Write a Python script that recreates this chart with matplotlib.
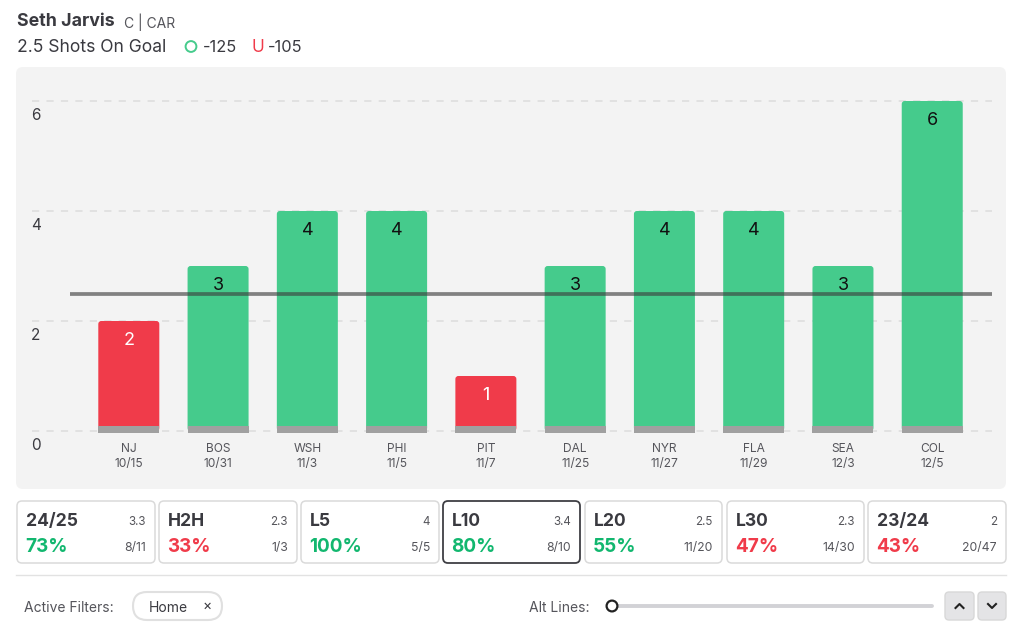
import matplotlib
matplotlib.use("Agg")
import matplotlib.pyplot as plt
from matplotlib.patches import FancyBboxPatch, Circle

plt.rcParams['font.family'] = ['Inter', 'DejaVu Sans']

W, H = 1024, 630

# chart data
teams = ["NJ", "BOS", "WSH", "PHI", "PIT", "DAL", "NYR", "FLA", "SEA", "COL"]
dates = ["10/15", "10/31", "11/3", "11/5", "11/7", "11/25", "11/27", "11/29", "12/3", "12/5"]
shots = [2, 3, 4, 4, 1, 3, 4, 4, 3, 6]
prop_line = 2.5
y_ticks = [0, 2, 4, 6]

# summary cards
card_names = ["24/25", "H2H", "L5", "L10", "L20", "L30", "23/24"]
card_avgs = ["3.3", "2.3", "4", "3.4", "2.5", "2.3", "2"]
card_pcts = [73, 33, 100, 80, 55, 47, 43]
card_fracs = ["8/11", "1/3", "5/5", "8/10", "11/20", "14/30", "20/47"]

GREEN = "#45CB8C"
RED = "#F03B4A"
TEXT_GREEN = "#12B76F"
DARK = "#3A3A40"
MID = "#55555B"

fig = plt.figure(figsize=(W / 100, H / 100), dpi=100, facecolor="white")

# overlay in pixel coordinates for the page furniture
ui = fig.add_axes([0, 0, 1, 1], zorder=0)
ui.set_xlim(0, W)
ui.set_ylim(H, 0)
ui.axis("off")


def rbox(x0, y0, x1, y1, r, fc, ec="none", lw=0, z=1):
    p = FancyBboxPatch((x0, y0), x1 - x0, y1 - y0, boxstyle=f"round,pad=0,rounding_size={r}",
                       fc=fc, ec=ec, lw=lw, zorder=z)
    ui.add_patch(p)


# header
ui.text(17, 22, "Seth Jarvis", fontsize=12.8, fontweight="bold", color=DARK, va="center")
ui.text(124, 22.5, "C | CAR", fontsize=10, color=MID, va="center")
ui.text(17, 48, "2.5 Shots On Goal", fontsize=12.6, color=DARK, va="center")
ui.add_patch(Circle((191, 46.5), 5.4, fc="none", ec=GREEN, lw=1.4))
ui.text(203, 48, "-125", fontsize=11.8, color=DARK, va="center")
ui.text(258, 48, "U", fontsize=12.4, color=RED, va="center", ha="center")
ui.text(268, 48, "-105", fontsize=11.8, color=DARK, va="center")

# chart panel
rbox(16, 67, 1006, 489, 7, "#F3F3F3")

# chart axes lined up with the panel, bottom edge just under the bar feet
STEP = 89.27
X0 = 128.8
UNIT = 55.0
Y0 = 431.0
AX_BOTTOM = 436
ax = fig.add_axes([16 / W, 1 - AX_BOTTOM / H, 990 / W, (AX_BOTTOM - 67) / H], zorder=1)
ax.patch.set_alpha(0)
ax.set_xlim((16 - X0) / STEP, (1006 - X0) / STEP)
ax.set_ylim((Y0 - AX_BOTTOM) / UNIT, (Y0 - 67) / UNIT)
for s in ax.spines.values():
    s.set_visible(False)

xs = list(range(len(teams)))
ax.hlines(y_ticks, (32 - X0) / STEP, (992 - X0) / STEP, colors="#E0E0E0", lw=1.3,
          linestyles=(0, (4, 4)), zorder=1)

bar_w = 61 / STEP
for x, v in zip(xs, shots):
    c = GREEN if v > prop_line else RED
    ax.add_patch(FancyBboxPatch((x - bar_w / 2, 0), bar_w, v,
                                boxstyle=f"round,pad=0,rounding_size={3 / STEP}",
                                mutation_aspect=STEP / UNIT, fc=c, ec="none", zorder=2))
    ax.annotate(str(v), (x, v), xytext=(0, -19.5 * 0.72), textcoords="offset points", ha="center",
                va="center", fontsize=13, color="white" if v < prop_line else "#111111", zorder=5)
# grey foot of each bar
ax.bar(xs, [7 / UNIT] * len(xs), bottom=-2 / UNIT, width=bar_w, color="#A0A0A0", zorder=3)

ax.plot([(70 - X0) / STEP, (992 - X0) / STEP], [prop_line, prop_line], color="#3C3C3C", alpha=0.62,
        lw=2.7, solid_capstyle="butt", zorder=4)

ax.set_xticks(xs, [f"{t}\n{d}" for t, d in zip(teams, dates)])
ax.tick_params(axis="x", length=0, pad=5, labelsize=8.6, labelcolor=MID)
for lab in ax.get_xticklabels():
    lab.set_linespacing(1.3)
ax.set_yticks([])
for t in y_ticks:
    ax.annotate(str(t), ((36 - X0) / STEP, t), xytext=(0, -15 * 0.72), textcoords="offset points",
                ha="center", va="center", fontsize=11, color=DARK)

# summary cards
card_x0 = [17, 159, 301, 443, 585, 727, 868]
card_x1 = [155, 297, 439, 580, 722, 864, 1006]
for i, name in enumerate(card_names):
    x0, x1 = card_x0[i], card_x1[i]
    active = name == "L10"
    rbox(x0, 501, x1, 563, 5, "white", ec="#3F3F44" if active else "#DADADA", lw=1.3 if active else 1.1)
    ui.text(x0 + 9, 521.5, name, fontsize=12.6, fontweight="bold", color=DARK, va="center")
    ui.text(x1 - 9, 522, card_avgs[i], fontsize=8.4, color=MID, va="center", ha="right")
    ui.text(x0 + 8, 547, f"{card_pcts[i]}%", fontsize=13.6, fontweight="bold", va="center",
            color=TEXT_GREEN if card_pcts[i] >= 50 else RED)
    ui.text(x1 - 9, 548, card_fracs[i], fontsize=8.8, color=MID, va="center", ha="right")

# footer
ui.plot([16, 1006], [575, 575], color="#E2E2E2", lw=1)
ui.text(24, 608, "Active Filters:", fontsize=10, color=MID, va="center")
rbox(133, 592, 222, 620, 14, "white", ec="#E0E0E0", lw=1.5)
ui.text(149, 608, "Home", fontsize=10, color=DARK, va="center")
ui.text(207, 606, "×", fontsize=10, color=DARK, va="center", ha="center")
ui.text(529, 608, "Alt Lines:", fontsize=10, color=MID, va="center")
ui.plot([612, 932], [606, 606], color="#D2D2D6", lw=2.8, solid_capstyle="round", zorder=1)
ui.add_patch(Circle((612, 606), 5.4, fc="white", ec="#222222", lw=1.6, zorder=2))
rbox(945, 592, 974, 620, 4, "#E4E4E6", ec="#D8D8D8", lw=1)
rbox(978, 592, 1006, 620, 4, "#E4E4E6", ec="#D8D8D8", lw=1)
ui.plot([955.5, 959.5, 963.5], [608, 604, 608], color="#222222", lw=1.5)
ui.plot([988, 992, 996], [604, 608, 604], color="#222222", lw=1.5)

fig.savefig("out.png", dpi=100, facecolor="white")
